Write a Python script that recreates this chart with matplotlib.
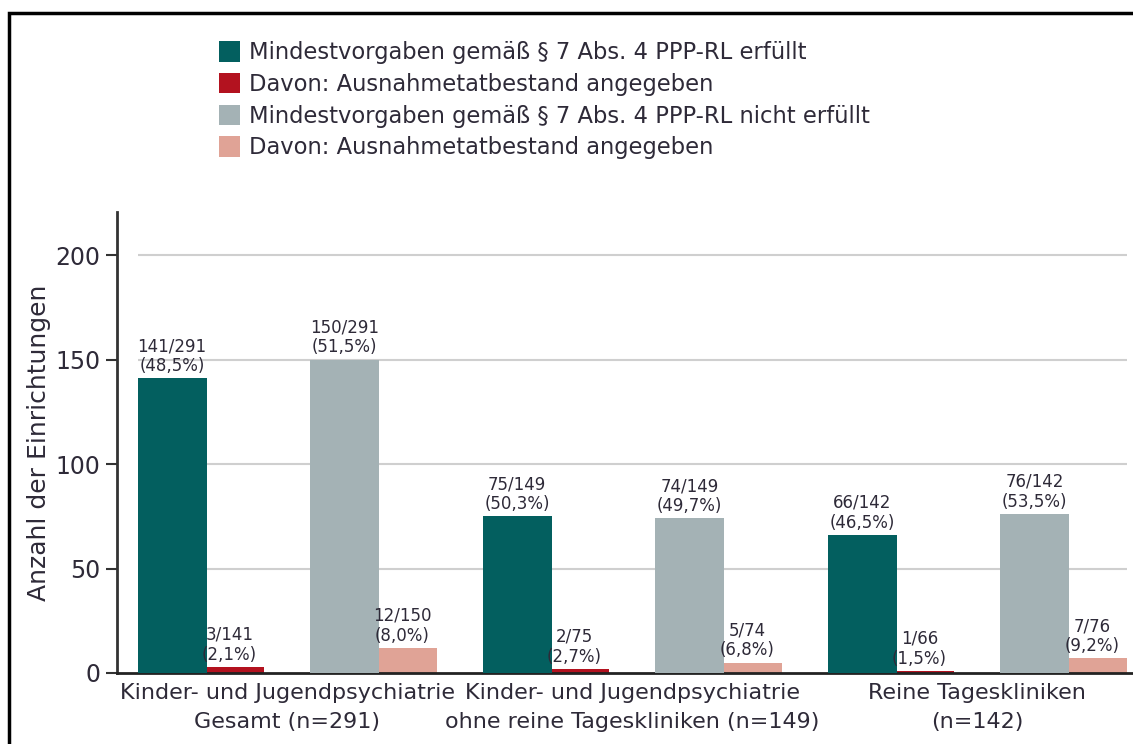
import matplotlib
matplotlib.use("Agg")
import matplotlib.pyplot as plt
from matplotlib import font_manager
from matplotlib.patches import Rectangle
import numpy as np

# pick a narrow font if one is installed
installed = {f.name for f in font_manager.fontManager.ttflist}
FONT = "Liberation Sans Narrow" if "Liberation Sans Narrow" in installed else "DejaVu Sans"
plt.rcParams["font.family"] = [FONT, "DejaVu Sans"]

groups = ["Kinder- und Jugendpsychiatrie\nGesamt (n=291)",
          "Kinder- und Jugendpsychiatrie\nohne reine Tageskliniken (n=149)",
          "Reine Tageskliniken\n(n=142)"]
erfuellt = [141, 75, 66]
erfuellt_ausnahme = [3, 2, 1]
nicht_erfuellt = [150, 74, 76]
nicht_erfuellt_ausnahme = [12, 5, 7]
totals = [291, 149, 142]

series_labels = ["Mindestvorgaben gemäß § 7 Abs. 4 PPP-RL erfüllt",
                 "Davon: Ausnahmetatbestand angegeben",
                 "Mindestvorgaben gemäß § 7 Abs. 4 PPP-RL nicht erfüllt",
                 "Davon: Ausnahmetatbestand angegeben"]
colors = ["#035f5f", "#b3121f", "#a4b2b5", "#e0a396"]
text_color = "#2e2a38"


def pct(a, b):
    return f"{a}/{b}\n({a / b * 100:.1f}%)".replace(".", ",")


fig = plt.figure(figsize=(11.33, 7.44), dpi=100)
ax = fig.add_axes([117 / 1133, 71 / 744, 1 - 117 / 1133, 461 / 744])

x = np.arange(len(groups))
w = 0.2
offsets = [-1 / 3, -1 / 6, 1 / 6, 1 / 3]
values = [erfuellt, erfuellt_ausnahme, nicht_erfuellt, nicht_erfuellt_ausnahme]
bases = [totals, erfuellt, totals, nicht_erfuellt]
zorders = [3, 2, 3, 2]

handles = []
for vals, base, off, col, lab, z in zip(values, bases, offsets, colors, series_labels, zorders):
    bars = ax.bar(x + off, vals, width=w, color=col, label=lab, zorder=z)
    handles.append(bars)
    for xi, v, b in zip(x + off, vals, base):
        ax.text(xi, v + 1.5, pct(v, b), ha="center", va="bottom",
                fontsize=12, color=text_color, linespacing=1.15, zorder=5)

# grid lines only across the bar area
for yv in [50, 100, 150, 200]:
    ax.hlines(yv, -1 / 3 - w / 2, 2 + 1 / 3 + w / 2, color="#cfcfcf", lw=1.5, zorder=1)

ax.set_xlim(-0.493, 2.452)
ax.set_ylim(0, 220.6)
ax.set_yticks([0, 50, 100, 150, 200])
ax.set_xticks(x)
ax.set_xticklabels(groups, fontsize=16, color=text_color, linespacing=1.55)
ax.tick_params(axis="x", length=0, pad=7)
ax.tick_params(axis="y", length=8, width=1.5, color="#333333", labelsize=17,
               labelcolor=text_color, pad=4)
ax.set_ylabel("Anzahl der Einrichtungen", fontsize=18, color=text_color, labelpad=3)

for s in ["top", "right"]:
    ax.spines[s].set_visible(False)
ax.spines["left"].set_linewidth(2)
ax.spines["left"].set_color("#333333")
ax.spines["bottom"].set_linewidth(2)
ax.spines["bottom"].set_color("#222222")

fig.legend(handles=handles, labels=series_labels, loc="upper left",
           bbox_to_anchor=(199 / 1133, 1 - 21 / 744), frameon=False,
           fontsize=16.3, handlelength=0.9, handleheight=1.0, handletextpad=0.4,
           labelspacing=0.38, labelcolor=text_color)

# outer frame of the figure (cropped on right and bottom)
fig.patches.append(Rectangle((9 / 1133, -0.1), 1.2, 1 - 13 / 744 + 0.1,
                             transform=fig.transFigure, fill=False,
                             edgecolor="black", lw=2.5, zorder=10))

fig.savefig("out.png", dpi=100)
